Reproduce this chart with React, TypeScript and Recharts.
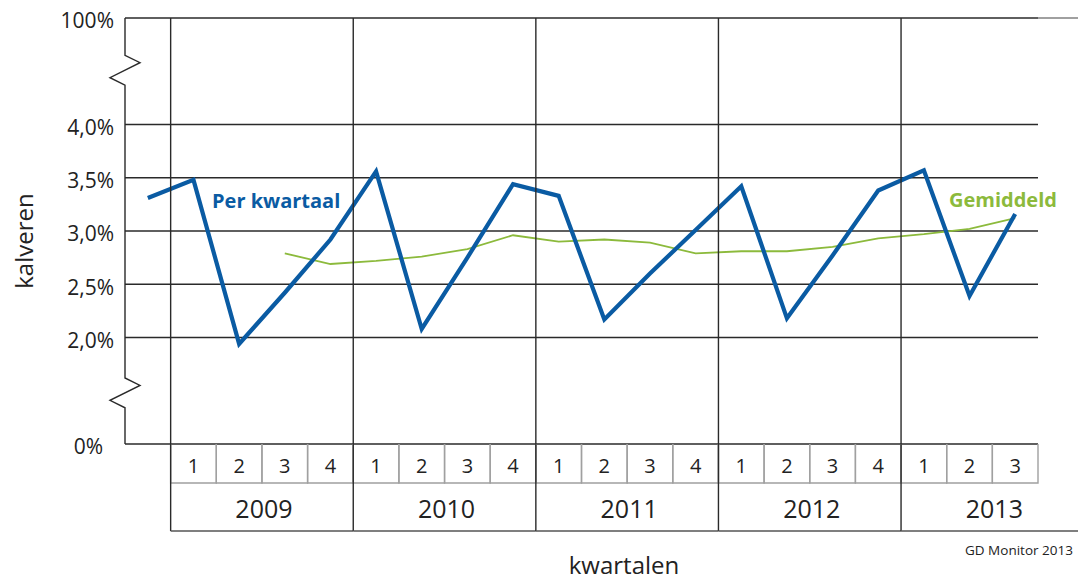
import React from "react";
import { LineChart, Line, XAxis, YAxis, CartesianGrid } from "recharts";

// kwartalen (jaar-kwartaal)
const periodes = [
  "2008-4",
  "2009-1", "2009-2", "2009-3", "2009-4",
  "2010-1", "2010-2", "2010-3", "2010-4",
  "2011-1", "2011-2", "2011-3", "2011-4",
  "2012-1", "2012-2", "2012-3", "2012-4",
  "2013-1", "2013-2", "2013-3",
];

// % doodgeboren kalveren per kwartaal
const perKwartaal = [
  3.31,
  3.48, 1.94, 2.42, 2.92,
  3.56, 2.08, 2.75, 3.44,
  3.33, 2.17, 2.6, 3.01,
  3.42, 2.18, 2.77, 3.38,
  3.57, 2.39, 3.16,
];

// voortschrijdend gemiddelde
const gemiddeld: (number | null)[] = [
  null,
  null, null, 2.79, 2.69,
  2.72, 2.76, 2.83, 2.96,
  2.9, 2.92, 2.89, 2.79,
  2.81, 2.81, 2.85, 2.93,
  2.97, 3.02, 3.12,
];

// y-as met onderbrekingen: 1 = 0%, 5 = 100%
const yTicks = [1, 2, 2.5, 3, 3.5, 4, 5];
const yTickLabels = ["0%", "2,0%", "2,5%", "3,0%", "3,5%", "4,0%", "100%"];

const data = periodes.map((p, i) => ({
  i,
  periode: p,
  per: perKwartaal[i],
  gem: gemiddeld[i],
}));
const xTicks = periodes.map((_, i) => i);

const W = 1078;
const H = 580;
const TOP = 18;
const LEFT = 125;
const RIGHT = 1038;
const BOTTOM = 444;
const Q_BOT = 483;
const J_BOT = 531;
const BW = (RIGHT - LEFT) / periodes.length;
const Y_MIN = 1;
const Y_MAX = 5;
const yPos = (v: number) => TOP + ((Y_MAX - v) / (Y_MAX - Y_MIN)) * (BOTTOM - TOP);

const BLUE = "#0a5ba3";
const GREEN = "#8cba3c";
const FONT = '"Open Sans", sans-serif';

function QuarterTick(props: any) {
  const { x, payload } = props;
  const i = payload.value as number;
  if (i === 0) return <g />;
  const q = periodes[i].split("-")[1];
  return (
    <g>
      <path
        d={`M${x - BW / 2},${BOTTOM} V${Q_BOT} H${x + BW / 2} V${BOTTOM}`}
        fill="none"
        stroke="#a0a0a0"
        strokeWidth={1.4}
      />
      <text x={x} y={473} textAnchor="middle" fontSize={20} fill="#222" fontFamily={FONT}>
        {q}
      </text>
    </g>
  );
}

function YearTick(props: any) {
  const { x, payload } = props;
  const i = payload.value as number;
  const [jaar, q] = periodes[i].split("-");
  const last = jaar === periodes[periodes.length - 1].split("-")[0];
  if (q === "1") {
    const x0 = x - BW / 2;
    return (
      <g>
        <line x1={x0} x2={x0} y1={TOP} y2={J_BOT} stroke="#2a2a2a" strokeWidth={1.4} />
        <line x1={x0} x2={last ? W : x0 + 4 * BW} y1={J_BOT} y2={J_BOT} stroke="#555" strokeWidth={1.4} />
      </g>
    );
  }
  if (q === "2") {
    return (
      <text x={x + BW / 2 + 2} y={518} textAnchor="middle" fontSize={25} fill="#222" fontFamily={FONT}>
        {jaar}
      </text>
    );
  }
  return <g />;
}

function YTick(props: any) {
  const { y, payload } = props;
  const k = yTicks.indexOf(payload.value);
  const label = yTickLabels[k];
  return (
    <text
      x={payload.value === 1 ? 103 : 114}
      y={y + 3}
      dy="0.355em"
      textAnchor="end"
      fontSize={21}
      fill="#222"
      fontFamily={FONT}
    >
      {label}
    </text>
  );
}

export default function App() {
  const axisPath =
    `M${LEFT},${TOP} V${yPos(4.65)} L${LEFT + 15},${yPos(4.58)} L${LEFT - 15},${yPos(4.44)} L${LEFT},${yPos(4.37)} ` +
    `V${yPos(1.62)} L${LEFT + 15},${yPos(1.55)} L${LEFT - 15},${yPos(1.41)} L${LEFT},${yPos(1.34)} V${BOTTOM}`;

  return (
    <div style={{ position: "absolute", left: 0, top: 0, width: W, height: H, background: "#fff", fontFamily: FONT }}>
      <LineChart width={W} height={H} data={data} margin={{ top: TOP, right: W - RIGHT, bottom: H - J_BOT, left: LEFT - 60 }}>
        <CartesianGrid xAxisId="q" vertical={false} stroke="#2a2a2a" strokeWidth={1.4} />
        <XAxis
          xAxisId="q"
          type="number"
          dataKey="i"
          domain={[-0.5, periodes.length - 0.5]}
          ticks={xTicks}
          interval={0}
          height={Q_BOT - BOTTOM}
          axisLine={false}
          tickLine={false}
          tickSize={0}
          tickMargin={0}
          tick={(p: any) => <QuarterTick {...p} />}
        />
        <XAxis
          xAxisId="j"
          type="number"
          dataKey="i"
          domain={[-0.5, periodes.length - 0.5]}
          ticks={xTicks}
          interval={0}
          height={J_BOT - Q_BOT}
          axisLine={false}
          tickLine={false}
          tickSize={0}
          tickMargin={0}
          tick={(p: any) => <YearTick {...p} />}
        />
        <YAxis
          type="number"
          domain={[Y_MIN, Y_MAX]}
          ticks={yTicks}
          width={60}
          axisLine={false}
          tickLine={false}
          tick={(p: any) => <YTick {...p} />}
        />
        <Line
          xAxisId="q"
          dataKey="gem"
          type="linear"
          stroke={GREEN}
          strokeWidth={1.8}
          dot={false}
          isAnimationActive={false}
        />
        <Line
          xAxisId="q"
          dataKey="per"
          type="linear"
          stroke={BLUE}
          strokeWidth={4.2}
          strokeLinejoin="miter"
          dot={false}
          isAnimationActive={false}
        />
      </LineChart>
      <svg width={W} height={H} style={{ position: "absolute", left: 0, top: 0, pointerEvents: "none" }}>
        <path d={axisPath} fill="none" stroke="#2a2a2a" strokeWidth={1.4} />
        <line x1={RIGHT} x2={W} y1={TOP} y2={TOP} stroke="#808080" strokeWidth={1.4} />
        <text x={212} y={208} fontSize={20} fontWeight="bold" fill={BLUE} fontFamily={FONT}>
          Per kwartaal
        </text>
        <text x={949} y={207} fontSize={20} fontWeight="bold" fill={GREEN} fontFamily={FONT}>
          Gemiddeld
        </text>
        <text x={33} y={241} fontSize={24} fill="#222" textAnchor="middle" transform="rotate(-90 33 241)" fontFamily={FONT}>
          kalveren
        </text>
        <text x={624} y={574} fontSize={24} fill="#222" textAnchor="middle" fontFamily={FONT}>
          kwartalen
        </text>
        <text x={965} y={555} fontSize={13.5} fill="#222" fontFamily={FONT}>
          GD Monitor 2013
        </text>
      </svg>
    </div>
  );
}
